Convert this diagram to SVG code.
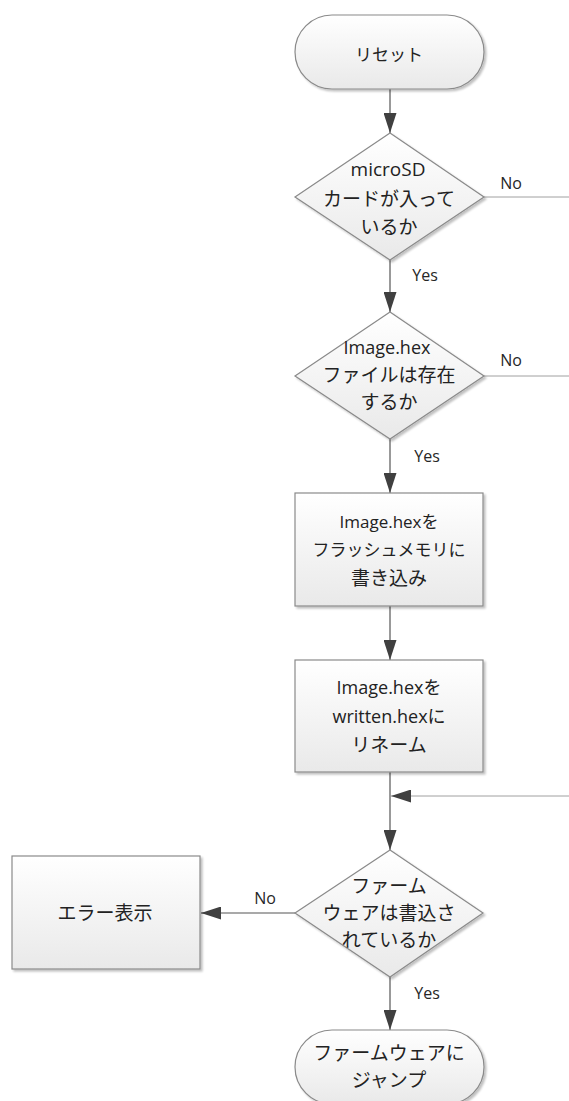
<svg xmlns="http://www.w3.org/2000/svg" width="569" height="1101" viewBox="0 0 569 1101">
<defs>
<linearGradient id="g" x1="0" y1="0" x2="0" y2="1">
<stop offset="0" stop-color="#ffffff"/>
<stop offset="1" stop-color="#e9e9e9"/>
</linearGradient>
<filter id="sh" x="-10%" y="-10%" width="125%" height="125%">
<feGaussianBlur in="SourceAlpha" stdDeviation="1.2"/>
<feOffset dx="2" dy="2" result="b"/>
<feComponentTransfer><feFuncA type="linear" slope="0.25"/></feComponentTransfer>
<feMerge><feMergeNode/><feMergeNode in="SourceGraphic"/></feMerge>
</filter>
<marker id="ah" markerWidth="20" markerHeight="13" refX="20" refY="6.5" orient="auto" markerUnits="userSpaceOnUse">
<path d="M0,0 L20,6.5 L0,13 Z" fill="#404040"/>
</marker>
</defs>
<style>
.shape{fill:url(#g);stroke:#8a8a8a;stroke-width:1.2;filter:url(#sh)}
.t{font-family:"Open Sans","Noto Sans CJK JP",sans-serif;font-size:19px;fill:#222222;text-anchor:middle}
.s{font-size:17px}
.m{font-size:18px}
.lbl{font-family:"Open Sans","Noto Sans CJK JP",sans-serif;font-size:16px;fill:#262626;text-anchor:middle}
.c{stroke:#555555;stroke-width:1.2;fill:none}
.cl{stroke:#a0a0a0;stroke-width:1;fill:none}
</style>

<g id="connectors">
<line class="c" x1="390" y1="89" x2="390" y2="133" marker-end="url(#ah)"/>
<line class="c" x1="390" y1="260" x2="390" y2="312" marker-end="url(#ah)"/>
<line class="cl" x1="484" y1="197" x2="569" y2="197"/>
<line class="c" x1="390" y1="439" x2="390" y2="493" marker-end="url(#ah)"/>
<line class="cl" x1="484" y1="376" x2="569" y2="376"/>
<line class="c" x1="390" y1="606" x2="390" y2="660" marker-end="url(#ah)"/>
<line class="c" x1="390" y1="772" x2="390" y2="850" marker-end="url(#ah)"/>
<line class="cl" x1="569" y1="796" x2="391" y2="796" marker-end="url(#ah)"/>
<line class="c" x1="295" y1="913" x2="201" y2="913" marker-end="url(#ah)"/>
<line class="c" x1="390" y1="977" x2="390" y2="1030" marker-end="url(#ah)"/>
<text class="lbl" x="511" y="189">No</text>
<text class="lbl" x="425" y="281">Yes</text>
<text class="lbl" x="511" y="366">No</text>
<text class="lbl" x="427" y="462">Yes</text>
<text class="lbl" x="265" y="904">No</text>
<text class="lbl" x="427" y="999">Yes</text>
</g>

<g id="start">
<rect class="shape" x="295" y="15" width="189" height="74" rx="37" ry="37"/>
<text class="t s" x="389" y="61">リセット</text>
</g>

<g id="check-card">
<polygon class="shape" points="390,133 484,197 390,260 295,197"/>
<text class="t" x="388" y="176">microSD</text>
<text class="t" x="389" y="206">カードが入って</text>
<text class="t" x="389" y="234">いるか</text>
</g>

<g id="check-file">
<polygon class="shape" points="390,312 484,376 390,439 295,376"/>
<text class="t m" x="387" y="354">Image.hex</text>
<text class="t" x="389" y="382">ファイルは存在</text>
<text class="t" x="389" y="409">するか</text>
</g>

<g id="write-flash">
<rect class="shape" x="295" y="493" width="188" height="113"/>
<text class="t s" x="389" y="528">Image.hexを</text>
<text class="t s" x="389" y="556">フラッシュメモリに</text>
<text class="t" x="389" y="585">書き込み</text>
</g>

<g id="rename">
<rect class="shape" x="295" y="660" width="188" height="112"/>
<text class="t m" x="389" y="694">Image.hexを</text>
<text class="t m" x="389" y="723">written.hexに</text>
<text class="t" x="389" y="752">リネーム</text>
</g>

<g id="check-firmware">
<polygon class="shape" points="390,850 483,913 390,977 295,913"/>
<text class="t" x="389" y="893">ファーム</text>
<text class="t" x="389" y="920">ウェアは書込さ</text>
<text class="t" x="389" y="947">れているか</text>
</g>

<g id="error">
<rect class="shape" x="12" y="856" width="188" height="113"/>
<text class="t" x="105" y="920">エラー表示</text>
</g>

<g id="jump">
<rect class="shape" x="295" y="1030" width="189" height="74" rx="37" ry="37"/>
<text class="t" x="389" y="1060">ファームウェアに</text>
<text class="t" x="389" y="1087">ジャンプ</text>
</g>
</svg>
